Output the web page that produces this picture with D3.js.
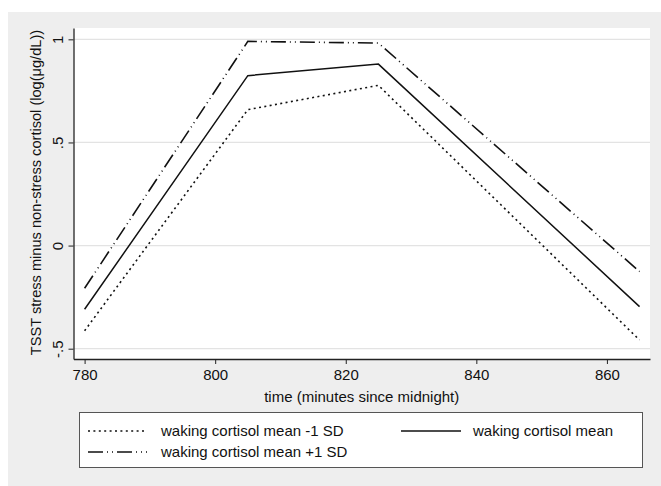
<!DOCTYPE html>
<html><head><meta charset="utf-8">
<script src="https://cdn.jsdelivr.net/npm/d3@7"></script>
<style>body{margin:0;background:#fff}svg{display:block}text{font-family:"Liberation Sans",Arial,sans-serif;fill:#111}</style>
</head><body>
<svg id="c" width="661" height="486"></svg>
<script>
const times = [780, 805, 825, 865];
const seriesNames = ["waking cortisol mean -1 SD", "waking cortisol mean", "waking cortisol mean +1 SD"];
const minus1SD = [-0.413, 0.659, 0.777, -0.458];
const meanVals = [-0.309, 0.824, 0.880, -0.296];
const plus1SD = [-0.207, 0.990, 0.982, -0.126];
const xTicks = [780, 800, 820, 840, 860];
const yTicks = [-0.5, 0, 0.5, 1];
const yTickLabels = ["-.5", "0", ".5", "1"];
const xTitle = "time (minutes since midnight)";
const yTitle = "TSST stress minus non-stress cortisol (log(\u03BCg/dL))";

const svg = d3.select("#c");
svg.append("rect").attr("x", 8).attr("y", 12).attr("width", 653).attr("height", 474).attr("fill", "#eeeeee");

const L = 73.5, R = 650, T = 28, B = 359;
svg.append("rect").attr("x", L).attr("y", T).attr("width", R - L).attr("height", B - T).attr("fill", "#fff");

const x = d3.scaleLinear().domain([778.3, 866.6]).range([L, R]);
const y = d3.scaleLinear().domain([-0.55, 1.055]).range([B, T]);

svg.append("g").selectAll("line").data(yTicks).join("line")
  .attr("x1", L).attr("x2", R).attr("y1", d => y(d)).attr("y2", d => y(d))
  .attr("stroke", "#e3e3e3").attr("stroke-width", 1.2);

const yAxis = d3.axisLeft(y).tickValues(yTicks).tickFormat((d, i) => yTickLabels[i]).tickSize(5).tickSizeOuter(0);
const gy = svg.append("g").attr("transform", `translate(${L},0)`).call(yAxis);
gy.select(".domain").attr("stroke", "#222").attr("stroke-width", 1.3);
gy.selectAll(".tick line").attr("stroke", "#222");
gy.selectAll(".tick text").attr("font-size", 15).attr("fill", "#111")
  .attr("text-anchor", "middle").attr("x", 0).attr("y", 0)
  .attr("transform", "translate(-16,0) rotate(-90)").attr("dy", "0.35em");

const xAxis = d3.axisBottom(x).tickValues(xTicks).tickFormat(d3.format("d")).tickSize(5).tickSizeOuter(0);
const gx = svg.append("g").attr("transform", `translate(0,${B})`).call(xAxis);
gx.select(".domain").attr("stroke", "#222").attr("stroke-width", 1.3);
gx.selectAll(".tick line").attr("stroke", "#222");
gx.selectAll(".tick text").attr("font-size", 15).attr("fill", "#111").attr("y", 10);

svg.append("text").attr("x", (L + R) / 2).attr("y", 402).attr("text-anchor", "middle").attr("font-size", 15).text(xTitle);
svg.append("text").attr("transform", `translate(41,${(T + B) / 2 - 1}) rotate(-90)`).attr("text-anchor", "middle").attr("font-size", 14.6).text(yTitle);

const styles = [
  {dash: "2,3.4", w: 1.6, color: "#111"},
  {dash: null, w: 1.5, color: "#111"},
  {dash: "15,4,1,4,1,4", w: 1.6, color: "#111"}
];
const series = [minus1SD, meanVals, plus1SD];
const line = d3.line().x((d, i) => x(times[i])).y(d => y(d));
series.forEach((s, k) => {
  svg.append("path").attr("d", line(s)).attr("fill", "none")
    .attr("stroke", styles[k].color).attr("stroke-width", styles[k].w)
    .attr("stroke-dasharray", styles[k].dash);
});

svg.append("rect").attr("x", 79.5).attr("y", 412.5).attr("width", 563).attr("height", 55)
  .attr("fill", "#fff").attr("stroke", "#555").attr("stroke-width", 1);
const legendPos = [
  {x1: 88, x2: 147, tx: 161, y: 431},
  {x1: 401, x2: 461, tx: 473, y: 431},
  {x1: 88, x2: 147, tx: 161, y: 452}
];
seriesNames.forEach((n, k) => {
  const p = legendPos[k];
  svg.append("line").attr("x1", p.x1).attr("x2", p.x2).attr("y1", p.y).attr("y2", p.y)
    .attr("stroke", styles[k].color).attr("stroke-width", styles[k].w).attr("stroke-dasharray", styles[k].dash);
  svg.append("text").attr("x", p.tx).attr("y", p.y).attr("dy", "0.35em").attr("font-size", 15).text(n);
});
</script>
</body></html>
